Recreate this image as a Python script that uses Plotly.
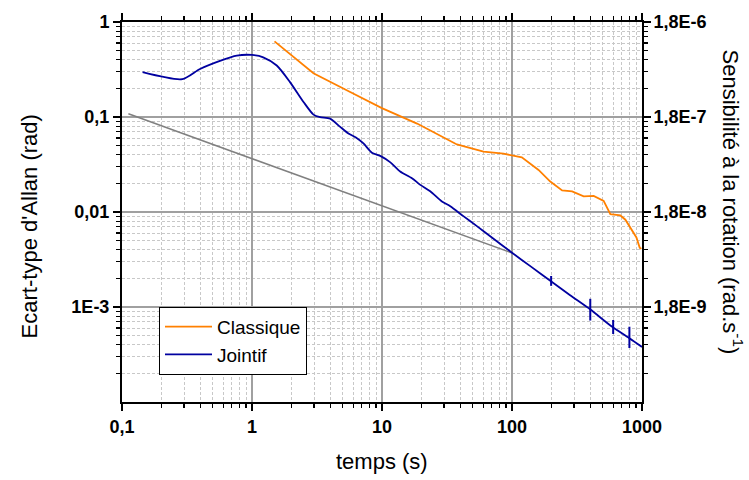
import plotly.graph_objects as go

# ---- data ----
classique_t = [1.49, 2.97, 5.69, 9.98, 18.6, 37.7, 60.4, 86, 119, 160, 197, 243, 290, 356, 425, 507,
               571, 682, 745, 839, 906, 961, 990]
classique_y = [0.625, 0.289, 0.183, 0.124, 0.0853, 0.0514, 0.0431, 0.0411, 0.0376, 0.0277, 0.0209,
               0.0169, 0.0165, 0.0146, 0.0148, 0.0131, 0.0095, 0.0092, 0.0083, 0.0063, 0.0054, 0.0042, 0.0041]

jointif_t = [0.144, 0.291, 0.398, 0.567, 0.764, 1.0, 1.22, 1.55, 1.96, 2.49, 2.97, 3.34, 3.99, 4.77,
             5.52, 6.3, 7.2, 8.36, 9.69, 11.6, 13.8, 17.0, 19.7, 23.5, 28.9, 33.5, 42.0, 53.7, 70.0,
             100, 140, 197, 280, 401, 571, 800, 1000]
jointif_y = [0.296, 0.25, 0.32, 0.39, 0.443, 0.45, 0.425, 0.348, 0.233, 0.144, 0.106, 0.0995, 0.096,
             0.0787, 0.067, 0.061, 0.0527, 0.042, 0.039, 0.0333, 0.0267, 0.0227, 0.0193, 0.0165,
             0.0129, 0.0115, 0.0091, 0.0071, 0.0054, 0.00373, 0.00266, 0.00189, 0.00133, 0.00094,
             0.00064, 0.00047, 0.00038]

err_t = [200, 400, 600, 800]
err_y = [0.00188, 0.00094, 0.00062, 0.00048]
err_plus = [0.00024, 0.00028, 0.00011, 0.00014]
err_minus = [0.00021, 0.00022, 0.00010, 0.00011]

ref_t = [0.112, 100]
ref_y = [0.108, 0.0037]

x_tickvals = [0.1, 1, 10, 100, 1000]
x_ticktext = ["0,1", "1", "10", "100", "1000"]
y_tickvals = [1, 0.1, 0.01, 0.001]
y_ticktext = ["1", "0,1", "0,01", "1E-3"]
y2_tickvals = [1.8e-6, 1.8e-7, 1.8e-8, 1.8e-9]
y2_ticktext = ["1,8E-6", "1,8E-7", "1,8E-8", "1,8E-9"]

x_minor = [m * 10 ** e for e in range(-1, 3) for m in range(2, 10)]
y_minor = [m * 10 ** e for e in range(-4, 0) for m in range(2, 10)]

ORANGE = "#FF8000"
BLUE = "#0000A0"
GRAY = "#808080"
FONT = "Liberation Sans, Arial, sans-serif"

fig = go.Figure()
fig.add_trace(go.Scatter(x=ref_t, y=ref_y, mode="lines", line=dict(color=GRAY, width=1.5),
                         showlegend=False, hoverinfo="skip"))
fig.add_trace(go.Scatter(x=classique_t, y=classique_y, mode="lines", name="Classique",
                         line=dict(color=ORANGE, width=1.8)))
fig.add_trace(go.Scatter(x=jointif_t, y=jointif_y, mode="lines", name="Jointif",
                         line=dict(color=BLUE, width=1.8, shape="spline", smoothing=0.7)))
fig.add_trace(go.Scatter(x=err_t, y=err_y, mode="markers", marker=dict(size=1, color=BLUE),
                         error_y=dict(type="data", symmetric=False, array=err_plus, arrayminus=err_minus,
                                      color=BLUE, thickness=2, width=0),
                         showlegend=False, hoverinfo="skip"))
# invisible trace to activate the right axis
fig.add_trace(go.Scatter(x=[1], y=[1.8e-7], yaxis="y2", mode="markers", marker=dict(size=1, opacity=0),
                         showlegend=False, hoverinfo="skip"))

grid_major = "#A0A0A0"
grid_minor = "#C8C8C8"

axis_common = dict(
    type="log", showline=True, linecolor="black", linewidth=2,
    ticks="outside", ticklen=7, tickwidth=1.5, tickcolor="black",
    showgrid=True, gridcolor=grid_major, gridwidth=1.2,
    zeroline=False, tickmode="array",
    tickfont=dict(family=FONT, size=18, color="black", weight="bold"),
)
minor_common = dict(tickmode="array", ticks="outside", ticklen=4, tickwidth=1.2, tickcolor="black",
                    showgrid=True, gridcolor=grid_minor, griddash="3px,2px", gridwidth=1)

W, H = 749, 480
L, R, T, B = 122, 642, 19, 402
PW, PH = R - L, B - T

fig.update_layout(
    width=W, height=H,
    margin=dict(l=L, r=W - R, t=T, b=H - B),
    paper_bgcolor="white", plot_bgcolor="white",
    font=dict(family=FONT, color="black"),
    hovermode=False,
    xaxis=dict(axis_common, range=[-1, 3], tickvals=x_tickvals, ticktext=x_ticktext, mirror="ticks",
               minor=dict(minor_common, tickvals=x_minor)),
    yaxis=dict(axis_common, range=[-4, 0], tickvals=y_tickvals, ticktext=y_ticktext, mirror="ticks",
               minor=dict(minor_common, tickvals=y_minor)),
    yaxis2=dict(type="log", overlaying="y", side="right", range=[-9.7447, -5.7447],
                tickmode="array", tickvals=y2_tickvals, ticktext=y2_ticktext,
                showgrid=False, showline=False, ticks="outside", ticklen=7, tickcolor="rgba(0,0,0,0)",
                zeroline=False,
                tickfont=dict(family=FONT, size=18, color="black", weight="bold")),
    legend=dict(x=(159 - L) / PW, y=(B - 306) / PH, xanchor="left", yanchor="top",
                bordercolor="black", borderwidth=1, bgcolor="white",
                font=dict(family=FONT, size=19, color="black"),
                tracegroupgap=0, itemwidth=47),
    showlegend=True,
    annotations=[
        dict(text="temps (s)", x=0.5, y=(B - 462) / PH, xref="paper", yref="paper", showarrow=False,
             xanchor="center", yanchor="middle", font=dict(family=FONT, size=22)),
        dict(text="Ecart-type d'Allan (rad)", x=(29 - L) / PW, y=(B - 225) / PH, xref="paper", yref="paper",
             xanchor="center", yanchor="middle",
             showarrow=False, textangle=-90, font=dict(family=FONT, size=22)),
        dict(text="Sensibilité à la rotation (rad.s<sup>-1</sup>)", x=(733 - L) / PW, y=(B - 200) / PH,
             xref="paper", yref="paper", xanchor="center", yanchor="middle",
             showarrow=False, textangle=90, font=dict(family=FONT, size=22)),
    ],
)

fig.write_html("out.html", config={"displayModeBar": False, "staticPlot": True},
               post_script="document.body.style.margin='0';document.body.style.overflow='hidden';")
